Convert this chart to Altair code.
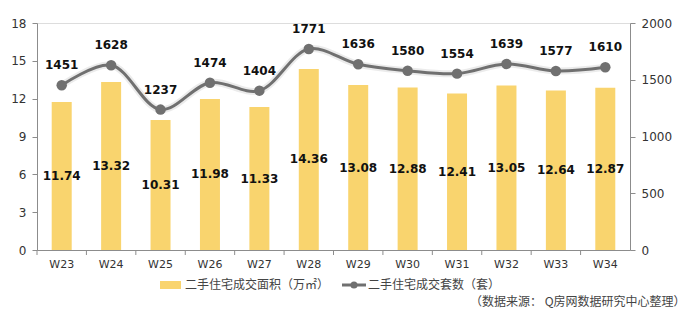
import altair as alt
import pandas as pd

weeks = ["W23", "W24", "W25", "W26", "W27", "W28", "W29", "W30", "W31", "W32", "W33", "W34"]
area = [11.74, 13.32, 10.31, 11.98, 11.33, 14.36, 13.08, 12.88, 12.41, 13.05, 12.64, 12.87]
count = [1451, 1628, 1237, 1474, 1404, 1771, 1636, 1580, 1554, 1639, 1577, 1610]

legend_bar = "二手住宅成交面积（万㎡）"
legend_line = "二手住宅成交套数（套）"
source = "（数据来源： Q房网数据研究中心整理）"

df = pd.DataFrame({"week": weeks, "area": area, "count": count})
df["area_mid"] = df["area"] / 2

FONT = "DejaVu Sans"
CJK = "Noto Sans CJK SC"
BAR = "#F9D46E"
LINE = "#707070"
AX = "#8c8c8c"

x = alt.X("week:N", sort=weeks, scale=alt.Scale(paddingInner=0, paddingOuter=0),
          axis=alt.Axis(title=None, labelAngle=0, ticks=False, domainColor=AX,
                        labelFont=FONT, labelFontSize=11, labelColor="#333",
                        labelPadding=8))

base = alt.Chart(df)

ax_left = alt.Axis(title=None, values=[0, 3, 6, 9, 12, 15, 18], grid=False,
                   domainColor=AX, tickColor=AX, tickSize=5,
                   labelFont=FONT, labelFontSize=12, labelColor="#333",
                   labelPadding=6)
sc_left = alt.Scale(domain=[0, 18])

bars = base.mark_bar(color=BAR, size=20).encode(
    x=x, y=alt.Y("area:Q", scale=sc_left, axis=ax_left))

bar_text = base.mark_text(font=FONT, fontSize=12, fontWeight="bold", color="#111").encode(
    x=x, y=alt.Y("area_mid:Q", scale=sc_left, axis=ax_left),
    text=alt.Text("area:Q", format=".2f"))

ticks = base.mark_rule(color=AX).encode(
    x=alt.X("week:N", sort=weeks, bandPosition=0),
    y=alt.value(227), y2=alt.value(232))

left = alt.layer(bars, bar_text, ticks)

ax_right = alt.Axis(title=None, orient="right", values=[0, 500, 1000, 1500, 2000], grid=False,
                    format="d", domainColor=AX, tickColor=AX, tickSize=5,
                    labelFont=FONT, labelFontSize=12, labelColor="#333",
                    labelPadding=6)
sc_right = alt.Scale(domain=[0, 2000])
yr = alt.Y("count:Q", scale=sc_right, axis=ax_right)

shadow = base.mark_line(color="#000", opacity=0.08, strokeWidth=7,
                        interpolate="catmull-rom").encode(x=x, y=yr)
line = base.mark_line(color=LINE, strokeWidth=3, interpolate="catmull-rom").encode(x=x, y=yr)
pts = base.mark_point(filled=True, color=LINE, size=110, opacity=1).encode(x=x, y=yr)
line_text = base.mark_text(font=FONT, fontSize=12, fontWeight="bold", color="#111", dy=-20).encode(
    x=x, y=yr, text="count:Q")

right = alt.layer(shadow, line, pts, line_text)

one = alt.Chart(pd.DataFrame({"k": [0]}))
leg_rect = one.mark_rect(color=BAR).encode(
    x=alt.value(123), x2=alt.value(144), y=alt.value(258), y2=alt.value(266))
leg_t1 = one.mark_text(font=CJK, fontSize=12, color="#444", align="left", baseline="middle").encode(
    x=alt.value(148), y=alt.value(262), text=alt.value(legend_bar))
leg_rule = one.mark_rule(color=LINE, strokeWidth=3).encode(
    x=alt.value(305), x2=alt.value(329), y=alt.value(262))
leg_pt = one.mark_point(filled=True, color=LINE, size=50, opacity=1).encode(
    x=alt.value(317), y=alt.value(262))
leg_t2 = one.mark_text(font=CJK, fontSize=12, color="#444", align="left", baseline="middle").encode(
    x=alt.value(331), y=alt.value(262), text=alt.value(legend_line))
src = one.mark_text(font=CJK, fontSize=12, color="#444", align="left", baseline="middle").encode(
    x=alt.value(433), y=alt.value(279), text=alt.value(source))

legend = alt.layer(leg_rect, leg_t1, leg_rule, leg_pt, leg_t2, src)

chart = alt.layer(left, right, legend).resolve_scale(y="independent").properties(
    width=593, height=227,
    autosize=alt.AutoSizeParams(type="none"),
    padding={"left": 37, "top": 23, "right": 67, "bottom": 62},
).configure_view(stroke=None).configure(background="white")

chart.save("out.html", embed_options={"renderer": "svg", "actions": False})
